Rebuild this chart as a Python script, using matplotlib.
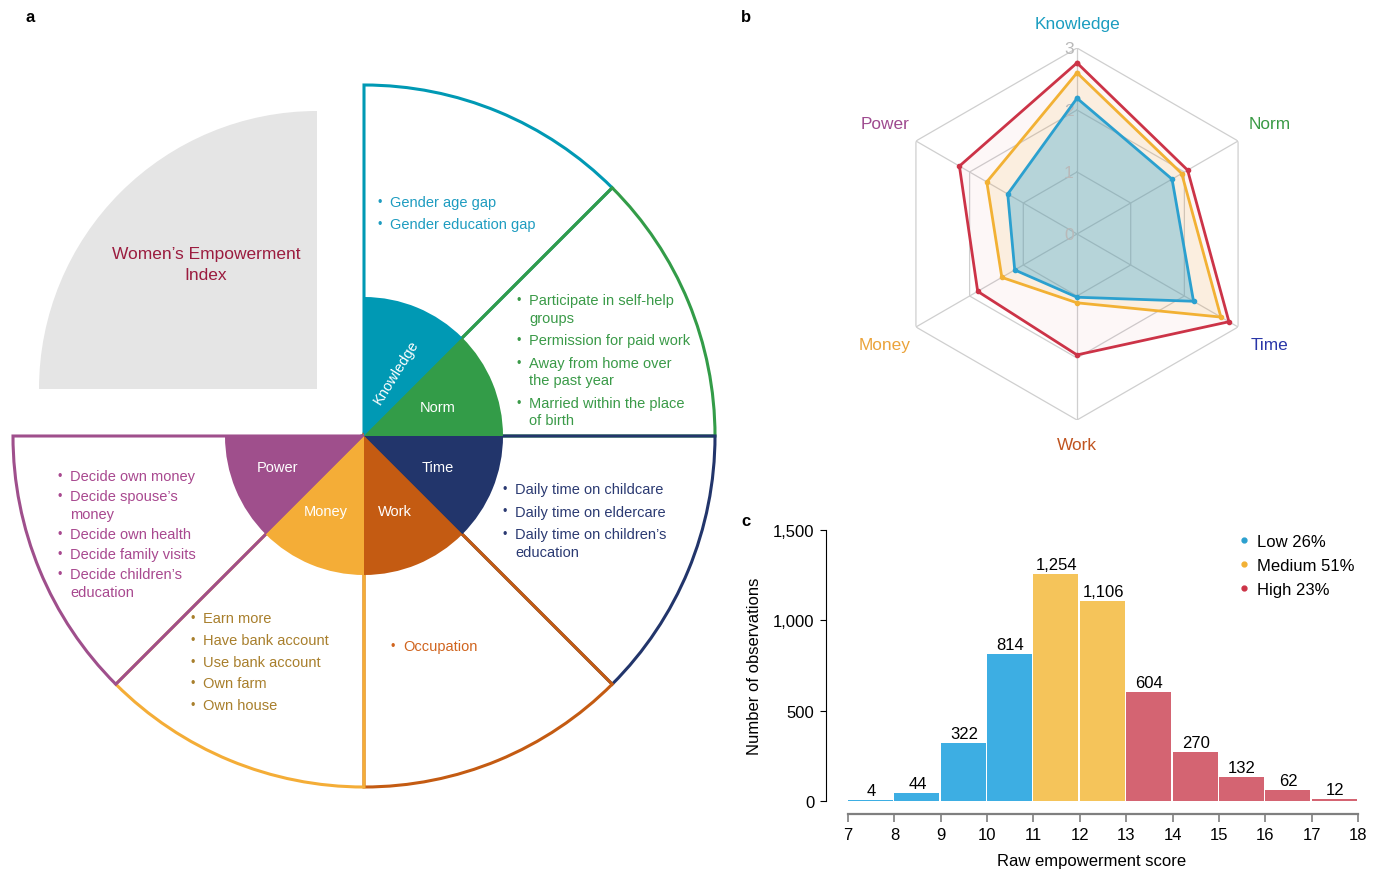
import numpy as np
import matplotlib

matplotlib.use("Agg")
import matplotlib.pyplot as plt
from matplotlib.patches import Wedge
from matplotlib.lines import Line2D

plt.rcParams["font.family"] = ["Liberation Sans", "DejaVu Sans"]

# --- dimensions of the index -------------------------------------------------
DIMENSIONS = ["Knowledge", "Norm", "Time", "Work", "Money", "Power"]
DIM_FILL = ["#0099b4", "#339c48", "#22356b", "#c45b12", "#f4ad37", "#9f4f8c"]
DIM_TEXT = ["#1e9cc0", "#3a9a48", "#2b3a72", "#d0641e", "#a87f2c", "#a8488f"]
RADAR_LABEL_COLORS = ["#1b9dc0", "#3a9a45", "#2a36a8", "#c05420", "#eba33a", "#9e4a8f"]

KNOWLEDGE_ITEMS = ["Gender age gap", "Gender education gap"]
NORM_ITEMS = [
    "Participate in self-help\ngroups",
    "Permission for paid work",
    "Away from home over\nthe past year",
    "Married within the place\nof birth",
]
TIME_ITEMS = [
    "Daily time on childcare",
    "Daily time on eldercare",
    "Daily time on children’s\neducation",
]
WORK_ITEMS = ["Occupation"]
MONEY_ITEMS = ["Earn more", "Have bank account", "Use bank account", "Own farm", "Own house"]
POWER_ITEMS = [
    "Decide own money",
    "Decide spouse’s\nmoney",
    "Decide own health",
    "Decide family visits",
    "Decide children’s\neducation",
]
ITEM_LISTS = [KNOWLEDGE_ITEMS, NORM_ITEMS, TIME_ITEMS, WORK_ITEMS, MONEY_ITEMS, POWER_ITEMS]

# --- mean dimension scores by empowerment group ---------------------------
RADAR_LOW = [2.19, 1.77, 2.17, 1.02, 1.16, 1.29]
RADAR_MEDIUM = [2.60, 1.95, 2.68, 1.11, 1.40, 1.68]
RADAR_HIGH = [2.76, 2.06, 2.83, 1.95, 1.85, 2.19]
RADAR_TICKS = [0, 1, 2, 3]

# --- distribution of the raw score -------------------------------------------
SCORE_LEFT = [7, 8, 9, 10, 11, 12, 13, 14, 15, 16, 17]
SCORE_COUNTS = [4, 44, 322, 814, 1254, 1106, 604, 270, 132, 62, 12]
SCORE_GROUP = ["Low", "Low", "Low", "Low", "Medium", "Medium",
               "High", "High", "High", "High", "High"]
GROUP_NAMES = ["Low", "Medium", "High"]
GROUP_SHARE = ["26%", "51%", "23%"]
GROUP_COLORS = {"Low": "#3daee3", "Medium": "#f5c45a", "High": "#d46472"}
LINE_COLORS = {"Low": "#2ba0cf", "Medium": "#f2b134", "High": "#cc3347"}

# diagram geometry (pixels, centre of the wheel at the origin)
R_OUT = 351
R_IN = 139
SECTOR_START = [45, 0, -45, -90, -135, 180]
SECTOR_END = [90, 45, 0, -45, -90, 225]
INNER_LABEL_XY = [(32, 65), (74, 29), (74, -31), (31, -75), (-38, -75), (-87, -31)]
INNER_LABEL_ROT = [58, 0, 0, 0, 0, 0]
BULLET_XY = [(16, 234), (155, 136), (141, -53), (29, -210), (-171, -182), (-304, -40)]
ITEM_STEP = [22.3, 22.5, 22.5, 22, 21.8, 20.2]
LINE_STEP = 17.6


def draw_index_wheel(ax):
    ax.set_xlim(-364, 376)
    ax.set_ylim(-433, 437)
    ax.axis("off")

    ax.add_patch(Wedge((-47, 47), 278, 90, 180, facecolor="#e5e5e5", edgecolor="none"))
    ax.text(-158, 183, "Women’s Empowerment", ha="center", va="center",
            color="#9b1c3f", fontsize=12.5)
    ax.text(-158, 162, "Index", ha="center", va="center", color="#9b1c3f", fontsize=12.5)

    # outer sectors, outlined only
    for t1, t2, c in zip(SECTOR_START, SECTOR_END, DIM_FILL):
        ax.add_patch(Wedge((0, 0), R_OUT, t1, t2, fill=False, edgecolor=c,
                           linewidth=2.2, joinstyle="miter"))

    # inner coloured hub
    for t1, t2, c in zip(SECTOR_START, SECTOR_END, DIM_FILL):
        ax.add_patch(Wedge((0, 0), R_IN, t1, t2, facecolor=c, edgecolor="none", zorder=3))

    for name, (x, y), rot in zip(DIMENSIONS, INNER_LABEL_XY, INNER_LABEL_ROT):
        ax.text(x, y, name, ha="center", va="center", rotation=rot, color="white",
                fontsize=10.5, zorder=4)

    # indicator lists
    for items, (bx, by), step, c in zip(ITEM_LISTS, BULLET_XY, ITEM_STEP, DIM_TEXT):
        y = by
        for item in items:
            lines = item.split("\n")
            ax.text(bx, y, "•", ha="center", va="center", color=c, fontsize=9)
            for k, line in enumerate(lines):
                ax.text(bx + 10, y - LINE_STEP * k, line, ha="left", va="center",
                        color=c, fontsize=10.5)
            y -= step + LINE_STEP * (len(lines) - 1)


def draw_radar(ax):
    n = len(DIMENSIONS)
    theta = np.arange(n) * 2 * np.pi / n
    closed = np.append(theta, theta[0])

    ax.set_theta_offset(np.pi / 2)
    ax.set_theta_direction(-1)
    ax.set_ylim(0, 3)
    ax.axis("off")

    for r in RADAR_TICKS[1:]:
        ax.plot(closed, [r] * (n + 1), color="#cfcfcf", lw=0.9, zorder=1)
    for t in theta:
        ax.plot([t, t], [0, RADAR_TICKS[-1]], color="#cfcfcf", lw=0.9, zorder=1)

    series = [("High", RADAR_HIGH, 0.04), ("Medium", RADAR_MEDIUM, 0.12), ("Low", RADAR_LOW, 0.33)]
    for group, vals, alpha in series:
        v = np.append(vals, vals[0])
        ax.fill(closed, v, color=LINE_COLORS[group], alpha=alpha, lw=0, zorder=2)

    for r in RADAR_TICKS:
        ax.annotate(str(r), xy=(0, r), xytext=(-2.5, 0), textcoords="offset points",
                    ha="right", va="center", color="#b9b9b9", fontsize=12.5, zorder=2.5)

    for group, vals, _ in series:
        v = np.append(vals, vals[0])
        ax.plot(closed, v, color=LINE_COLORS[group], lw=2.0, marker="o", ms=3, zorder=3)

    for t, name, c in zip(theta, DIMENSIONS, RADAR_LABEL_COLORS):
        r = 3.40 if abs(np.sin(t)) < 0.1 else 3.58
        ax.text(t, r, name, ha="center", va="center", color=c, fontsize=12.4)


def draw_histogram(ax):
    colors = [GROUP_COLORS[g] for g in SCORE_GROUP]
    ax.bar(SCORE_LEFT, SCORE_COUNTS, width=0.97, align="edge", color=colors,
           edgecolor="none", clip_on=False)
    for x, h in zip(SCORE_LEFT, SCORE_COUNTS):
        ax.annotate(f"{h:,}", xy=(x + 0.5, h), xytext=(0, 1.5), textcoords="offset points",
                    ha="center", va="bottom", fontsize=12)

    ax.set_xlim(6.525, 18)
    ax.set_ylim(0, 1500)
    ax.set_yticks([0, 500, 1000, 1500])
    ax.set_yticklabels(["0", "500", "1,000", "1,500"])
    ax.set_xticks(np.arange(7, 19))

    for side in ("top", "right"):
        ax.spines[side].set_visible(False)
    ax.spines["left"].set_bounds(0, 1500)
    ax.spines["left"].set_linewidth(0.8)
    ax.spines["bottom"].set_position(("outward", 9.4))
    ax.spines["bottom"].set_bounds(7, 18)
    ax.spines["bottom"].set_color("#7f7f7f")
    ax.spines["bottom"].set_linewidth(1.6)

    ax.tick_params(axis="y", length=4.5, width=0.8, labelsize=12, pad=4)
    ax.tick_params(axis="x", length=6, width=1.2, color="#7f7f7f", labelsize=12, pad=3)
    ax.set_ylabel("Number of observations", fontsize=12, labelpad=8)
    ax.set_xlabel("Raw empowerment score", fontsize=12, labelpad=8)

    handles = [Line2D([], [], ls="", marker="o", ms=3.5, color=LINE_COLORS[g]) for g in GROUP_NAMES]
    labels = [f"{g} {s}" for g, s in zip(GROUP_NAMES, GROUP_SHARE)]
    ax.legend(handles, labels, loc="upper left", bbox_to_anchor=(1240 / 1380, 1 - 535 / 870),
              bbox_transform=ax.figure.transFigure, frameon=False, fontsize=12,
              handlelength=0.5, handletextpad=0.5, labelspacing=0.55,
              borderpad=0, borderaxespad=0)


def main() -> None:
    fig = plt.figure(figsize=(13.8, 8.7), dpi=100)

    ax_a = fig.add_axes([0, 0, 740 / 1380, 1])
    draw_index_wheel(ax_a)

    ax_b = fig.add_axes([891 / 1380, 449 / 870, 372 / 1380, 372 / 870], projection="polar")
    draw_radar(ax_b)

    ax_c = fig.add_axes([826 / 1380, 68 / 870, 532 / 1380, 271 / 870])
    draw_histogram(ax_c)

    for letter, x, y in (("a", 30, 18), ("b", 746, 18), ("c", 746, 521)):
        fig.text(x / 1380, 1 - y / 870, letter, ha="center", va="center",
                 fontsize=12, fontweight="bold")

    fig.savefig("out.png", dpi=100)
    plt.close(fig)


if __name__ == "__main__":
    main()
